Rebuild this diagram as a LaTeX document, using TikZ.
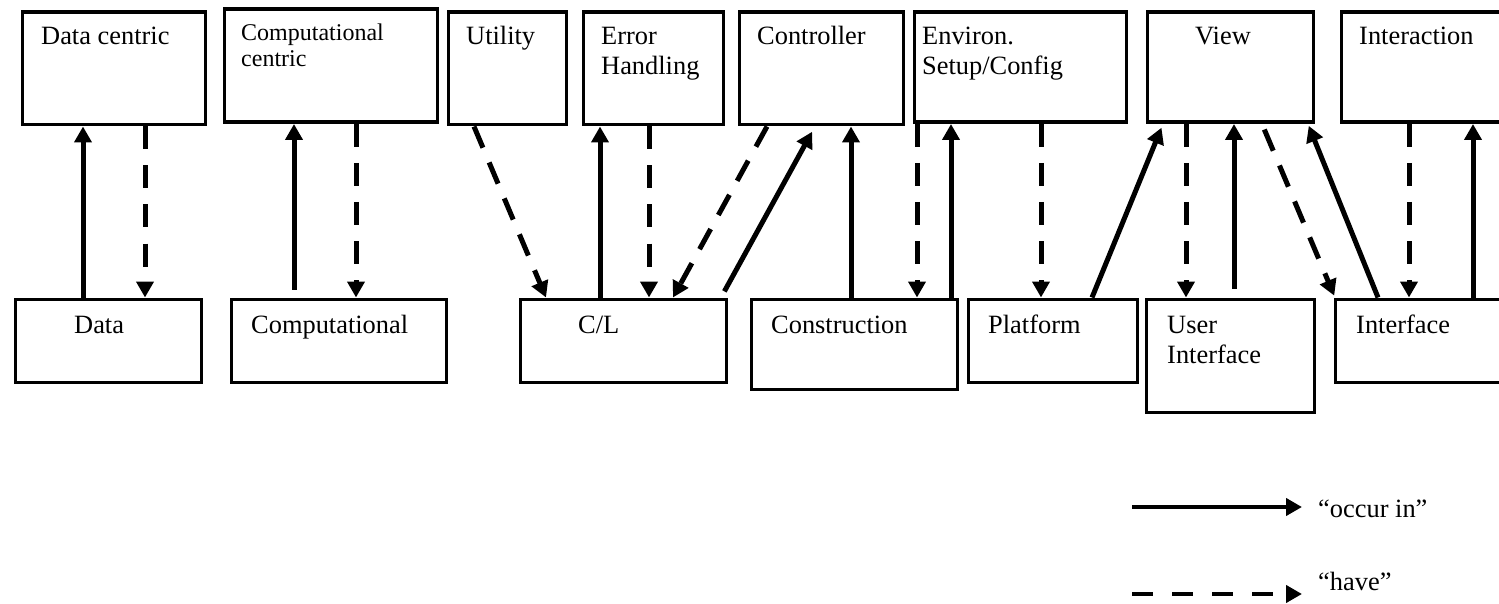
\documentclass[tikz,border=0pt]{standalone}
\usepackage{fontspec}
\setmainfont{Liberation Serif}
\usetikzlibrary{arrows.meta}

\tikzset{
  box/.style={draw, line width=3.5pt, rectangle, inner sep=0pt, anchor=north west},
  lbl/.style={anchor=base west, inner sep=0pt, align=left, font=\fontsize{26.4}{30}\selectfont},
  occur/.style={line width=5pt, -{Triangle[length=16pt,width=17pt]}},
  have/.style={occur, dash pattern=on 23pt off 16pt},
}

\begin{document}
\begin{tikzpicture}[x=1pt, y=-1pt]
  \useasboundingbox (0,0) rectangle (1499,604);
  \fill[white] (0,0) rectangle (1499,604);
  \clip (0,0) rectangle (1499,604);

  % upper row of boxes
  \node[box, minimum width=183pt, minimum height=112.5pt] (datac) at (20.5,10.5) {};
  \node[box, minimum width=213pt, minimum height=113pt]   (compc) at (222.5,7.5) {};
  \node[box, minimum width=118pt, minimum height=112.5pt] (util)  at (446.5,10.5) {};
  \node[box, minimum width=140pt, minimum height=112.5pt] (err)   at (581.5,10.5) {};
  \node[box, minimum width=164pt, minimum height=112.5pt] (ctrl)  at (737.5,10.5) {};
  \node[box, minimum width=212pt, minimum height=110pt]   (env)   at (912.5,10.5) {};
  \node[box, minimum width=166pt, minimum height=110pt]   (view)  at (1145.5,10.5) {};
  \node[box, minimum width=240pt, minimum height=110pt]   (inter) at (1339.5,10.5) {};

  % lower row of boxes
  \node[box, minimum width=186pt, minimum height=83pt]  (data)   at (13.5,297.5) {};
  \node[box, minimum width=215pt, minimum height=83pt]  (comp)   at (229.5,297.5) {};
  \node[box, minimum width=206pt, minimum height=83pt]  (cl)     at (518.5,297.5) {};
  \node[box, minimum width=206pt, minimum height=90pt]  (constr) at (749.5,297.5) {};
  \node[box, minimum width=169pt, minimum height=83pt]  (plat)   at (966.5,297.5) {};
  \node[box, minimum width=168pt, minimum height=113pt] (ui)     at (1144.5,297.5) {};
  \node[box, minimum width=240pt, minimum height=83pt]  (iface)  at (1333.5,297.5) {};

  % box texts (two-line texts are placed by the baseline of their last line)
  \node[lbl] (t-datac) at (41,45) {Data centric};
  \node[lbl, font=\fontsize{24}{26.5}\selectfont] (t-compc) at (241,67) {Computational\\centric};
  \node[lbl] (t-util)  at (466,45) {Utility};
  \node[lbl] (t-err)   at (601,75) {Error\\Handling};
  \node[lbl] (t-ctrl)  at (757,45) {Controller};
  \node[lbl] (t-env)   at (922,75) {Environ.\\Setup/Config};
  \node[lbl] (t-view)  at (1195,45) {View};
  \node[lbl] (t-inter) at (1359,45) {Interaction};
  \node[lbl] (t-data)  at (74,333) {Data};
  \node[lbl] (t-comp)  at (251,333) {Computational};
  \node[lbl] (t-cl)    at (578,333) {C/L};
  \node[lbl] (t-constr) at (771,333) {Construction};
  \node[lbl] (t-plat)  at (988,333) {Platform};
  \node[lbl] (t-ui)    at (1167,363) {User\\Interface};
  \node[lbl] (t-iface) at (1356,333) {Interface};

  % relations
  \draw[occur] (data.north -| 83,0) -- (datac.south -| 83,0);
  \draw[have]  (datac.south -| 145,0) -- (data.north -| 145,0);
  \draw[occur, shorten <=8pt] (comp.north -| 294,0) -- (compc.south -| 294,0);
  \draw[have]  (compc.south -| 356,0) -- (comp.north -| 356,0);
  \draw[have]  (util.south -| 474,0) -- (cl.north -| 546,0);
  \draw[occur] (cl.north -| 600,0) -- (err.south -| 600,0);
  \draw[have]  (err.south -| 649,0) -- (cl.north -| 649,0);
  \draw[have]  (ctrl.south -| 767,0) -- (cl.north -| 673,0);
  \draw[occur, shorten <=7pt, shorten >=6pt] (cl.north -| 721,0) -- (ctrl.south -| 815,0);
  \draw[occur] (constr.north -| 851,0) -- (ctrl.south -| 851,0);
  \draw[have]  (env.south -| 917,0) -- (constr.north -| 917,0);
  \draw[occur] (constr.north -| 951,0) -- (env.south -| 951,0);
  \draw[have]  (env.south -| 1041,0) -- (plat.north -| 1041,0);
  \draw[occur, shorten >=4pt] (plat.north -| 1092,0) -- (view.south -| 1163,0);
  \draw[have]  (view.south -| 1186,0) -- (ui.north -| 1186,0);
  \draw[occur, shorten <=9pt] (ui.north -| 1234,0) -- (view.south -| 1234,0);
  \draw[have, shorten <=6pt, shorten >=2pt] (view.south -| 1262,0) -- (iface.north -| 1335,0);
  \draw[occur, shorten >=2pt] (iface.north -| 1378,0) -- (view.south -| 1308,0);
  \draw[have]  (inter.south -| 1409,0) -- (iface.north -| 1409,0);
  \draw[occur] (iface.north -| 1473,0) -- (inter.south -| 1473,0);

  % legend
  \coordinate (lo-a) at (1132,507);
  \coordinate (lo-b) at (1302,507);
  \draw[occur, line width=4.5pt] (lo-a) -- (lo-b);
  \node[lbl] (t-occur) at (1318,517) {“occur in”};
  \coordinate (lh-a) at (1132,594);
  \coordinate (lh-b) at (1302,594);
  \draw[have, line width=4.5pt, dash pattern=on 21pt off 19pt] (lh-a) -- (lh-b);
  \node[lbl] (t-have) at (1318,590) {“have”};
\end{tikzpicture}
\end{document}
